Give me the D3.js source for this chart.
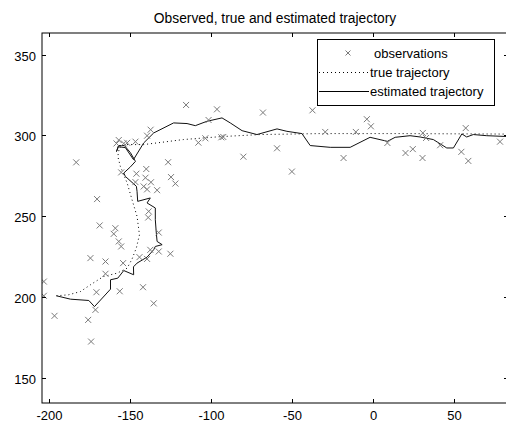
<!DOCTYPE html>
<html><head><meta charset="utf-8">
<script src="https://cdn.jsdelivr.net/npm/d3@7"></script>
<style>body{margin:0;background:#fff}svg{display:block}text{font-family:"Liberation Sans",Arial,sans-serif;fill:#000}</style>
</head><body><svg id="c" width="506" height="423"></svg>
<script>
const title = "Observed, true and estimated trajectory";
const xTicks = [-200, -150, -100, -50, 0, 50];
const yTicks = [150, 200, 250, 300, 350];
const legendLabels = ["observations", "true trajectory", "estimated trajectory"];

const obsX = [-203.5,-203.5,-196.9,-183.5,-176.1,-174.3,-174.7,-171.6,-171,-170.6,-169,-165.4,-165.4,-160.3,-159.3,-157.2,-155.7,-156.6,-154.5,-142.2,-135.6,-144.4,-139.7,-137.7,-132.5,-125.3,-132.5,-138.7,-139,-141.8,-139.7,-133.5,-146.9,-140.7,-137.3,-122.2,-124.9,-146.3,-155.7,-140.2,-126.7,-158.6,-157.2,-154.1,-152,-146.9,-139.7,-137.5,-115.6,-96.5,-101.7,-108,-103.7,-93.8,-92.6,-80.2,-68.1,-59.4,-50.2,-37.5,-29.6,-18.3,-10.7,-3.9,-1.4,8.8,20,24.5,30.5,30.7,32.7,41.4,54.5,57.2,58.8,78.4];
const obsY = [209.6,200.8,188.4,283.3,185.9,172.5,224.1,192.1,203,260.6,244.3,222,214.4,239.1,242.6,234.4,231.3,203.6,221,206.1,196.1,224.7,223.6,229.2,228.2,226.8,239.9,253,249.2,268.4,266.6,266.1,271.1,273.8,271,270.2,274.2,276.3,277.1,279.2,283.4,295,297.1,295,295.4,296.1,299.8,303.5,318.8,316.1,309.5,295.5,298.2,298.8,299,286.8,314.1,292,277.6,315.5,302.1,286,302.1,310,305.6,295.3,289.1,291.5,286,301.5,298.4,293.9,289.8,304.5,284.2,296.1];

const trueX = [-195.7,-188.3,-180.9,-174.7,-166.7,-158.2,-152,-149,-146.3,-144.4,-145.9,-149,-152,-156.2,-157.8,-156.8,-153.1,-141.8,-117.3,-94.4,-69.8,-32.7,16.7,83];
const trueY = [200.8,201.4,203.4,207.6,212.7,214.8,217.9,223.5,230.5,238.5,249.9,260.2,270.5,280.8,287,292.4,294.3,294.3,297.4,299.2,300.5,301.1,301.1,300.8];

const estX = [-195.7,-187,-175.7,-172.2,-162.3,-162.3,-157.8,-154.1,-148,-148.1,-145.9,-139.7,-135.6,-134.6,-130.4,-133.5,-134,-134.6,-134.6,-139.7,-137.7,-145.5,-145.9,-146.3,-153.1,-154.1,-150,-146.9,-150,-153.7,-157.4,-158.6,-157.4,-153.1,-148.1,-141.8,-135.6,-123.3,-115,-109.9,-102.7,-93.4,-88.3,-81,-71.8,-59.4,-53.3,-44,-38.9,-26.5,-14.2,-1.9,8.8,13.6,22.8,29,37.2,45.5,49.6,54.8,57.8,61.9,70.2,84.6];
const estY = [200.8,198.7,197.9,194.1,204.9,210.7,211.7,216.4,213.8,218.7,221,224.7,229.3,231.3,232.4,234.4,239.6,247.8,255.1,258.2,261.3,259.2,265.4,268.5,274.6,276.7,280.5,283.9,289.3,293.7,293.7,290,293,292.4,285,295.3,301.5,307.7,307.3,306,308.7,310.8,307.7,302.9,300.5,304,302.5,301.1,293.7,292.6,292.6,298.8,296.3,298.8,299.8,299,297.4,292.2,292.2,300.9,299,300.5,299.8,299.2];

const L = 42, R = 508, T = 33, B = 403;
const x = d3.scaleLinear().domain([-204.63, 83.33]).range([L, R]);
const y = d3.scaleLinear().domain([134.5, 363.3]).range([B, T]);
const svg = d3.select("#c");

svg.append("defs").append("clipPath").attr("id","clip").append("rect")
  .attr("x", L).attr("y", T).attr("width", R-L).attr("height", B-T);

svg.append("rect").attr("x",L).attr("y",T).attr("width",R-L).attr("height",B-T).attr("fill","#fff");

const g = svg.append("g").attr("clip-path","url(#clip)");
const line = d3.line().x(d=>x(d[0])).y(d=>y(d[1]));

g.append("path").datum(trueX.map((v,i)=>[v,trueY[i]])).attr("d", line)
  .attr("fill","none").attr("stroke","#000").attr("stroke-width",1).attr("stroke-dasharray","1,3");
g.append("path").datum(estX.map((v,i)=>[v,estY[i]])).attr("d", line)
  .attr("fill","none").attr("stroke","#111").attr("stroke-width",1);

const cross = (sel, cx, cy, s) => {
  sel.append("path").attr("d", `M${cx-s},${cy-s}L${cx+s},${cy+s}M${cx-s},${cy+s}L${cx+s},${cy-s}`)
    .attr("stroke","#7a7a7a").attr("stroke-width",1).attr("fill","none");
};
obsX.forEach((v,i)=>cross(g, x(v), y(obsY[i]), 3));

// axes box
const ax = svg.append("g");
ax.append("rect").attr("x",L).attr("y",T).attr("width",R-L).attr("height",B-T)
  .attr("fill","none").attr("stroke","#000").attr("stroke-width",1);
const tl = 4;
xTicks.forEach(t=>{
  const px = Math.round(x(t))+0.5;
  ax.append("line").attr("x1",px).attr("x2",px).attr("y1",B).attr("y2",B-tl).attr("stroke","#000");
  ax.append("line").attr("x1",px).attr("x2",px).attr("y1",T).attr("y2",T+tl).attr("stroke","#000");
  ax.append("text").attr("x",px).attr("y",B+17).attr("text-anchor","middle").attr("font-size","13px").text(t);
});
yTicks.forEach(t=>{
  const py = Math.round(y(t))+0.5;
  ax.append("line").attr("x1",L).attr("x2",L+tl).attr("y1",py).attr("y2",py).attr("stroke","#000");
  ax.append("line").attr("x1",R).attr("x2",R-tl).attr("y1",py).attr("y2",py).attr("stroke","#000");
  ax.append("text").attr("x",L-6).attr("y",py+5).attr("text-anchor","end").attr("font-size","13px").text(t);
});

svg.append("text").attr("x",(L+R)/2).attr("y",23).attr("text-anchor","middle")
  .attr("font-size","13.8px").text(title);

// legend
const lg = svg.append("g");
lg.append("rect").attr("x",317.5).attr("y",39.5).attr("width",177).attr("height",66)
  .attr("fill","#fff").attr("stroke","#000");
const rows = [53, 72, 91];
cross(lg, 348, rows[0], 2.5);
lg.append("line").attr("x1",319).attr("x2",369).attr("y1",rows[1]+0.5).attr("y2",rows[1]+0.5)
  .attr("stroke","#000").attr("stroke-dasharray","1,3");
lg.append("line").attr("x1",319).attr("x2",369).attr("y1",rows[2]+0.5).attr("y2",rows[2]+0.5)
  .attr("stroke","#000");
legendLabels.forEach((s,i)=>{
  lg.append("text").attr("x", i===0?374:370).attr("y", rows[i]+5).attr("font-size","13px").text(s);
});
</script></body></html>
